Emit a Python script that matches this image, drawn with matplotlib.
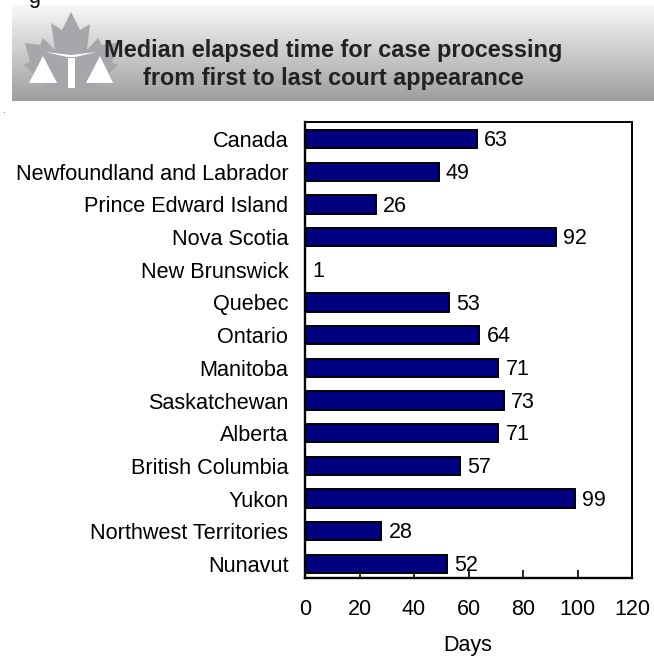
import numpy as np
import matplotlib
matplotlib.use('Agg')
import matplotlib.pyplot as plt
from matplotlib.patches import Polygon, Rectangle

W, H = 654, 656

provinces = ['Canada', 'Newfoundland and Labrador', 'Prince Edward Island', 'Nova Scotia',
             'New Brunswick', 'Quebec', 'Ontario', 'Manitoba', 'Saskatchewan', 'Alberta',
             'British Columbia', 'Yukon', 'Northwest Territories', 'Nunavut']
# New Brunswick shows a "1" (footnote) but no bar
days = [63, 49, 26, 92, 0, 53, 64, 71, 73, 71, 57, 99, 28, 52]
day_labels = ['63', '49', '26', '92', '1', '53', '64', '71', '73', '71', '57', '99', '28', '52']
x_ticks = [0, 20, 40, 60, 80, 100, 120]

plt.rcParams['font.family'] = ['Liberation Sans', 'DejaVu Sans']

fig = plt.figure(figsize=(W / 100, H / 100), dpi=100)

# full-figure overlay in pixel coords for the banner
bg = fig.add_axes([0, 0, 1, 1])
bg.axis('off')

# banner gradient, light at the top and darker at the bottom
gradient = np.linspace(0.97, 0.62, 200).reshape(-1, 1)
bg.imshow(gradient, cmap='gray', vmin=0, vmax=1, extent=[12, 654, 101, 5], aspect='auto', zorder=1)
bg.set_xlim(0, W)
bg.set_ylim(H, 0)

# maple leaf behind the scales
leaf = [(71, 12), (80, 30), (90, 24), (87, 50), (98, 38), (102, 45), (117, 43), (112, 63), (118, 65),
        (97, 85), (97, 93), (71, 88), (45, 93), (45, 85), (24, 65), (30, 62), (25, 43), (40, 45),
        (43, 38), (55, 50), (51, 23), (62, 30)]
bg.add_patch(Polygon(leaf, closed=True, facecolor='#a5a7aa', edgecolor='none', zorder=2))

# scales in white
bg.add_patch(Polygon([(45, 52), (71, 55), (97, 52), (75, 57), (67, 57)], closed=True,
                     facecolor='white', edgecolor='none', zorder=3))
bg.add_patch(Rectangle((68, 58), 7, 30, facecolor='white', edgecolor='none', zorder=3))
bg.add_patch(Polygon([(29, 83), (43, 56), (57, 83)], closed=True, facecolor='white', edgecolor='none', zorder=3))
bg.add_patch(Polygon([(86, 83), (100, 56), (113, 83)], closed=True, facecolor='white', edgecolor='none', zorder=3))

bg.text(333, 51, 'Median elapsed time for case processing', ha='center', va='center',
        fontsize=16.9, fontweight='bold', color='#222222', zorder=4)
bg.text(333, 79, 'from first to last court appearance', ha='center', va='center',
        fontsize=16.9, fontweight='bold', color='#222222', zorder=4)
bg.text(34, -3, 'g', ha='center', va='center', fontsize=15.5, color='black', zorder=4)
bg.text(3, 110, '.', ha='center', va='center', fontsize=7, color='#444444', zorder=4)

# chart axes
left, right, top, bottom = 305, 632, 122, 578
ax = fig.add_axes([left / W, 1 - bottom / H, (right - left) / W, (bottom - top) / H])
ax.patch.set_alpha(0)

y_pos = np.arange(len(provinces))
ax.barh(y_pos, days, height=0.56, color='#000080', edgecolor='black', linewidth=1.4)
for y, val, lab in zip(y_pos, days, day_labels):
    ax.text(val + 2.6, y + 0.05, lab, ha='left', va='center', fontsize=15.5, color='black')

ax.set_xlim(0, 120)
ax.set_ylim(13.43, -0.52)
ax.set_yticks(y_pos)
ax.set_yticklabels(provinces, fontsize=15.6)
ax.set_xticks(x_ticks)
ax.tick_params(axis='y', length=0, pad=12)
ax.tick_params(axis='x', direction='in', length=6, width=1.2, pad=15, labelsize=15.5)
for spine in ax.spines.values():
    spine.set_linewidth(1.4)
ax.spines['bottom'].set_linewidth(1.7)
ax.spines['left'].set_linewidth(1.7)

bg.text(468, 645, 'Days', ha='center', va='center', fontsize=15.5, color='black')

fig.savefig('out.png', dpi=100)
